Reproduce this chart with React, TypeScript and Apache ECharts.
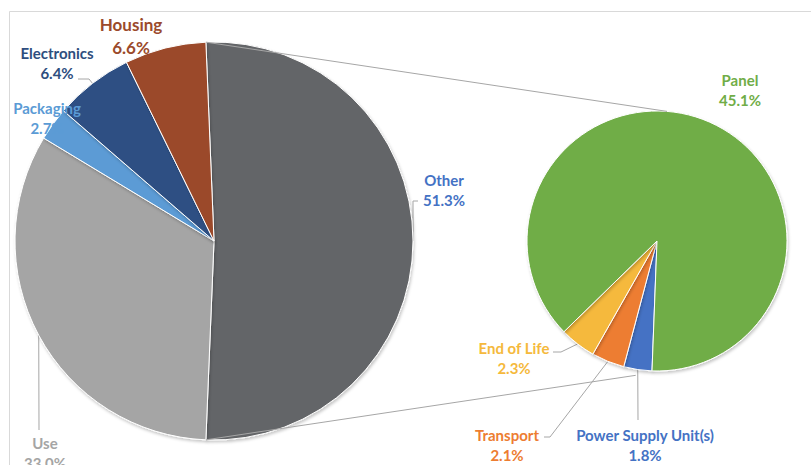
import React, { useEffect, useRef } from "react";
import * as echarts from "echarts";

// ---- data ----
const mainCategories = ["Other", "Use", "Packaging", "Electronics", "Housing"];
const mainValues = [51.3, 33.0, 2.7, 6.4, 6.6];
const mainColors = ["#646567", "#a5a5a5", "#5b9bd5", "#2e5083", "#9b4a2b"];
const mainLabelColors = ["#4472c4", "#a5a5a5", "#5b9bd5", "#2e4e7e", "#9b4a2b"];

const detailCategories = ["Power Supply Unit(s)", "Transport", "End of Life", "Panel"];
const detailValues = [1.8, 2.1, 2.3, 45.1];
const detailColors = ["#4472c4", "#ed7d31", "#f5b93c", "#70ad47"];
const detailLabelColors = ["#4472c4", "#ed7d31", "#f5b93c", "#70ad47"];

// ---- layout (positions / styles) ----
const MAIN = { cx: 214, cy: 241, r: 199 };
const DETAIL = { cx: 657, cy: 241, r: 130, start: 267.8 };

type Spot = { x: number; y: number; line?: number[][]; big?: boolean };
const labelSpots: Record<string, Spot> = {
  Other: { x: 444, y: 190, line: [[413, 201], [418, 201]] },
  Use: { x: 45, y: 453, line: [[39, 430]] },
  Packaging: { x: 47, y: 118 },
  Electronics: { x: 57, y: 63, line: [[89, 79], [78, 79]] },
  Housing: { x: 131, y: 36, big: true },
  "Power Supply Unit(s)": { x: 645, y: 445, line: [[638, 420]] },
  Transport: { x: 507, y: 445, line: [[550, 437], [544, 437]] },
  "End of Life": { x: 514, y: 358, line: [[561, 352], [553, 352]] },
  Panel: { x: 740, y: 90 },
};

function midAngles(values: number[], start: number) {
  const total = values.reduce((a, b) => a + b, 0);
  let cum = 0;
  return values.map((v) => {
    const a = start - ((cum + v / 2) / total) * 360;
    cum += v;
    return a;
  });
}
function edgePoint(c: { cx: number; cy: number; r: number }, deg: number, rr?: number) {
  const rad = (deg * Math.PI) / 180;
  const r = rr ?? c.r;
  return [c.cx + r * Math.cos(rad), c.cy - r * Math.sin(rad)];
}

export default function App() {
  const ref = useRef<HTMLDivElement>(null);
  useEffect(() => {
    if (!ref.current) return;
    const chart = echarts.init(ref.current, undefined, { renderer: "svg" });
    const mainTotal = mainValues.reduce((a, b) => a + b, 0);
    const mainStart = (mainValues[0] / mainTotal) * 180;
    const mainMid = midAngles(mainValues, mainStart);
    const detailMid = midAngles(detailValues, DETAIL.start);

    const fmt = (p: any) => `${p.name}\n${Number(p.value).toFixed(1)}%`;

    const makeLayout = (cats: string[], mids: number[], geo: any) => (params: any) => {
      const name = cats[params.dataIndex];
      const s = labelSpots[name];
      const out: any = { x: s.x, y: s.y, align: "center", verticalAlign: "middle" };
      if (s.line) {
        const a = edgePoint(geo, mids[params.dataIndex]);
        out.labelLinePoints = [a, ...s.line];
      }
      return out;
    };

    const baseLabel = {
      show: true,
      position: "outside",
      formatter: fmt,
      fontFamily: "Lato",
      fontWeight: "bold",
      fontSize: 15,
      lineHeight: 20,
      width: 220,
      overflow: "none",
      align: "center",
    };
    const itemShadow = {
      borderColor: "#ffffff",
      borderWidth: 1,
      shadowBlur: 3,
      shadowOffsetX: 1,
      shadowOffsetY: 2,
      shadowColor: "rgba(0,0,0,0.22)",
    };

    const mainData = mainCategories.map((n, i) => {
      const spot = labelSpots[n];
      return {
        name: n,
        value: mainValues[i],
        itemStyle: { color: mainColors[i] },
        label: spot.big
          ? { color: mainLabelColors[i], fontSize: 17, lineHeight: 23 }
          : { color: mainLabelColors[i] },
        labelLine: { show: !!spot.line },
      };
    });
    const detailData = detailCategories.map((n, i) => {
      const spot = labelSpots[n];
      return {
        name: n,
        value: detailValues[i],
        itemStyle: { color: detailColors[i] },
        label: { color: detailLabelColors[i] },
        labelLine: { show: !!spot.line },
      };
    });

    const topL = edgePoint(MAIN, mainStart);
    const botL = edgePoint(MAIN, mainStart - (mainValues[0] / mainTotal) * 360);
    const topR = edgePoint(DETAIL, 85.6);
    const botR = edgePoint(DETAIL, 261, DETAIL.r + 6);

    chart.setOption({
      animation: false,
      backgroundColor: "#ffffff",
      graphic: [
        {
          type: "rect",
          shape: { x: 9.5, y: 11.5, width: 900, height: 600 },
          style: { fill: "none", stroke: "#d9d9d9", lineWidth: 1 },
          silent: true,
        },
        {
          type: "line",
          shape: { x1: topL[0], y1: topL[1], x2: topR[0], y2: topR[1] },
          style: { stroke: "#a6a6a6", lineWidth: 1 },
          z: 10,
        },
        {
          type: "line",
          shape: { x1: botL[0], y1: botL[1], x2: botR[0], y2: botR[1] },
          style: { stroke: "#a6a6a6", lineWidth: 1 },
          z: 10,
        },
      ],
      series: [
        {
          type: "pie",
          center: [MAIN.cx, MAIN.cy],
          radius: MAIN.r,
          startAngle: mainStart,
          clockwise: true,
          avoidLabelOverlap: false,
          label: baseLabel,
          labelLine: { show: true, length: 8, length2: 8, lineStyle: { color: "#a6a6a6", width: 1 } },
          labelLayout: makeLayout(mainCategories, mainMid, MAIN),
          itemStyle: itemShadow,
          emphasis: { disabled: true },
          data: mainData,
        },
        {
          type: "pie",
          center: [DETAIL.cx, DETAIL.cy],
          radius: DETAIL.r,
          startAngle: DETAIL.start,
          clockwise: true,
          avoidLabelOverlap: false,
          label: baseLabel,
          labelLine: { show: true, length: 8, length2: 8, lineStyle: { color: "#a6a6a6", width: 1 } },
          labelLayout: makeLayout(detailCategories, detailMid, DETAIL),
          itemStyle: itemShadow,
          emphasis: { disabled: true },
          data: detailData,
        },
      ],
    });
    return () => chart.dispose();
  }, []);
  return (
    <div
      ref={ref}
      style={{ position: "fixed", left: 0, top: 0, width: 811, height: 465 }}
    />
  );
}
